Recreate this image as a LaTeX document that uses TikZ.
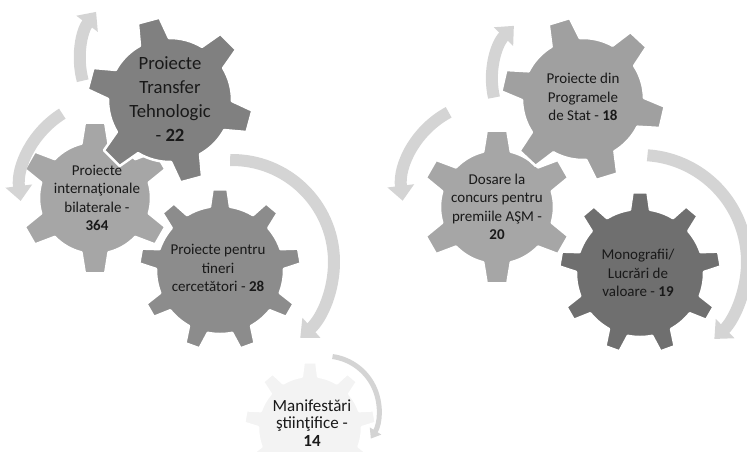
\documentclass[tikz,border=0pt]{standalone}
\usepackage{fontspec}
\setmainfont{Carlito}
\usetikzlibrary{arrows.meta}
\definecolor{geardark}{RGB}{128,128,128}
\definecolor{gearmid}{RGB}{140,140,140}
\definecolor{gearlight}{RGB}{166,166,166}
\definecolor{gearsoft}{RGB}{160,160,160}
\definecolor{geardeep}{RGB}{111,111,111}
\definecolor{gearpale}{RGB}{243,243,243}
\definecolor{arrowgray}{RGB}{212,212,212}
\definecolor{labelgray}{RGB}{25,25,25}

% #1 style, #2 centre, #3 teeth, #4 first tooth angle, #5 root radius,
% #6 tip radius, #7 half base width (deg), #8 half tip width (deg)
\newcommand{\gearpath}[8]{%
  \pgfmathsetmacro{\gstep}{360/#3}
  \path[#1, shift={#2}] ({#4-#7}:#5)
    \foreach \k in {1,...,#3} {
      -- ({#4+(\k-1)*\gstep-#8}:#6) -- ({#4+(\k-1)*\gstep+#8}:#6)
      -- ({#4+(\k-1)*\gstep+#7}:#5)
      arc[start angle={#4+(\k-1)*\gstep+#7}, end angle={#4+\k*\gstep-#7}, radius=#5]
    } -- cycle;
}
% #1 style, #2 centre, #3 radius, #4 start angle, #5 end angle
\newcommand{\turnarc}[5]{%
  \draw[#1] ([shift={(#4:#3)}]#2) arc[start angle=#4, end angle=#5, radius=#3];
}

\tikzset{
    gearbody/.style={fill=#1, draw=white, line width=2.5pt, line join=round},
    gearlabel/.style={align=center, text=labelgray, font=\fontsize{15}{18.5}\selectfont},
    turnarrow/.style={draw=arrowgray, line width=12pt, -{Triangle[length=15pt, width=26pt]}},
    smallarrow/.style={draw=arrowgray, line width=5pt, -{Triangle[length=9pt, width=13pt]}},
}

\begin{document}
\begin{tikzpicture}[x=1pt, y=1pt]
    \useasboundingbox (0,0) rectangle (747,-451);
    \clip (0,0) rectangle (747,-451);

    % Left group
    \gearpath{gearbody=gearpale}{(310,-428)}{9}{90}{52}{66}{9}{5.5}
    \node[gearlabel, font=\fontsize{17}{17.5}\selectfont] (manifest) at (312,-423)
        {Manifestări\\ştiinţifice -\\\textbf{14}};

    \gearpath{gearbody=gearmid}{(220,-270)}{9}{90}{64}{81}{9}{5.3}
    \node[gearlabel] (tineri) at (218,-268)
        {Proiecte pentru\\tineri\\cercetători - \textbf{28}};

    \gearpath{gearbody=gearlight}{(95,-198)}{6}{90}{56}{76}{14}{7.7}
    \node[gearlabel] (bilateral) at (97,-198)
        {Proiecte\\internaţionale\\bilaterale -\\\textbf{364}};

    \gearpath{gearbody=geardark}{(170,-100)}{6}{105}{62}{83}{14}{7.7}
    \node[gearlabel, font=\fontsize{18.7}{24}\selectfont] (transfer) at (170,-99)
        {Proiecte\\Transfer\\Tehnologic\\- \textbf{22}};

    % Right group
    \gearpath{gearbody=geardeep}{(640,-273)}{9}{90}{64}{81}{9}{5.3}
    \node[gearlabel] (monografii) at (638,-273)
        {Monografii/\\Lucrări de\\valoare - \textbf{19}};

    \gearpath{gearbody=gearlight}{(497,-207)}{6}{90}{57}{77}{14}{7.7}
    \node[gearlabel] (dosare) at (497,-207)
        {Dosare la\\concurs pentru\\premiile AŞM -\\\textbf{20}};

    \gearpath{gearbody=gearsoft}{(583,-99)}{6}{107}{61}{82}{14}{7.7}
    \node[gearlabel] (programe) at (583,-97)
        {Proiecte din\\Programele\\de Stat - \textbf{18}};

    % Turning arrows
    \turnarc{turnarrow}{160,-60}{80}{195}{143}
    \turnarc{turnarrow}{110,-190}{90}{122}{187}
    \turnarc{turnarrow}{232,-262}{102}{91}{-48}
    \turnarc{smallarrow}{325,-410}{54}{82}{-32}
    \turnarc{turnarrow}{570,-80}{78}{193}{136}
    \turnarc{turnarrow}{490,-190}{88}{118}{187}
    \turnarc{turnarrow}{640,-262}{107}{86}{-46}
\end{tikzpicture}
\end{document}
